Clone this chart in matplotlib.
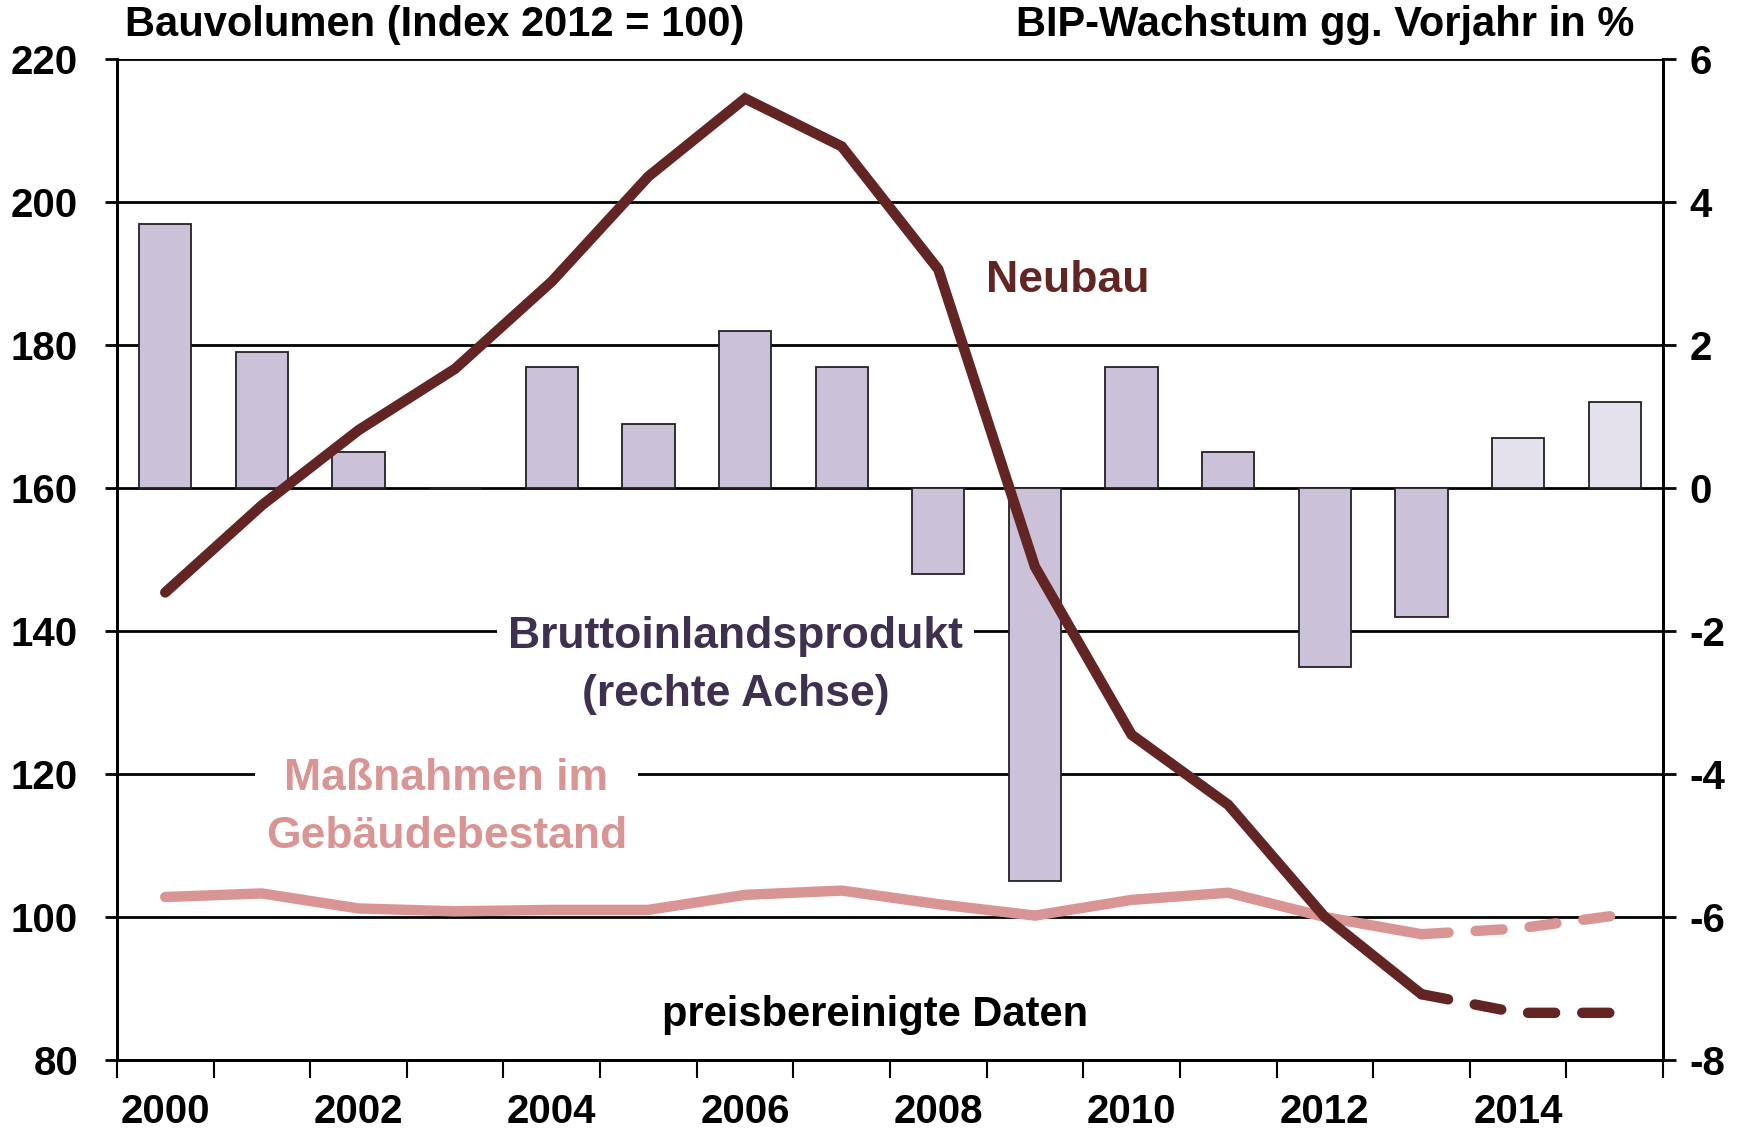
import numpy as np
import matplotlib.pyplot as plt

plt.rcParams["font.family"] = ["Liberation Sans Narrow", "Liberation Sans", "DejaVu Sans"]
plt.rcParams["font.weight"] = "bold"
plt.rcParams["font.size"] = 29
plt.rcParams["axes.unicode_minus"] = False

# data
years = list(range(2000, 2016))
bip = [3.7, 1.9, 0.5, 0.0, 1.7, 0.9, 2.2, 1.7, -1.2, -5.5, 1.7, 0.5, -2.5, -1.8, 0.7, 1.2]
bip_forecast = [False] * 14 + [True, True]
neubau = [145.4, 157.6, 168.1, 176.7, 188.9, 203.6, 214.5, 207.8, 190.6, 149.0,
          125.5, 115.7, 100.0, 89.2, 86.6, 86.6]
bestand = [102.8, 103.3, 101.2, 100.8, 101.0, 101.0, 103.1, 103.7, 101.8, 100.2,
           102.4, 103.4, 100.0, 97.6, 98.4, 100.2]
year_labels = [str(y) for y in years[::2]]

neubau_col = "#632523"
bestand_col = "#D99594"
bip_col = "#CBC2DA"
bip_col_light = "#E4E0EC"
text_purple = "#40304F"

x = np.arange(len(years))
last_actual = 13  # index of 2013, dashed afterwards

fig = plt.figure(figsize=(17.53, 11.36), dpi=100)
ax2 = fig.add_axes([0.0667, 0.0669, 0.882, 0.881])   # bars, right axis
ax = ax2.twinx()                                      # lines, left axis
ax.yaxis.tick_left()
ax2.yaxis.tick_right()
ax.set_zorder(ax2.get_zorder() + 1)
ax.patch.set_visible(False)

# bars (right axis)
colors = [bip_col_light if f else bip_col for f in bip_forecast]
ax2.bar(x, bip, width=0.54, color=colors, edgecolor="#222222", linewidth=1.3, zorder=3)
ax2.set_ylim(-8, 6)
ax2.set_yticks(np.arange(-8, 7, 2))
ax2.grid(axis="y", color="black", linewidth=2, zorder=0)
ax2.set_axisbelow(True)

# lines (left axis)
lw = 7.5
dash = (0, (2.6, 2.6))
ax.plot(x[:last_actual + 1], neubau[:last_actual + 1], color=neubau_col, lw=lw,
        solid_capstyle="round", solid_joinstyle="miter")
ax.plot(x[last_actual:], neubau[last_actual:], color=neubau_col, lw=lw,
        linestyle=dash, dash_capstyle="round")
ax.plot(x[:last_actual + 1], bestand[:last_actual + 1], color=bestand_col, lw=lw,
        solid_capstyle="round", solid_joinstyle="miter", zorder=1.9)
ax.plot(x[last_actual:], bestand[last_actual:], color=bestand_col, lw=lw,
        linestyle=dash, dash_capstyle="round", zorder=1.9)
ax.set_ylim(80, 220)
ax.set_yticks(np.arange(80, 221, 20))

# category axis: tick marks between years, labels every second year
ax2.set_xlim(-0.5, len(years) - 0.5)
ax2.set_xticks(np.arange(-0.5, len(years), 1.0))
ax2.set_xticklabels([])
ax2.set_xticks(x[::2], minor=True)
ax2.set_xticklabels(year_labels, minor=True)
ax2.tick_params(axis="x", which="major", direction="out", length=13, width=1.5)
ax2.tick_params(axis="x", which="minor", length=0, pad=24)

ax.tick_params(axis="y", direction="out", length=9, width=2, pad=19)
ax2.tick_params(axis="y", direction="out", length=9, width=2, pad=10)

for a in (ax, ax2):
    for s in a.spines.values():
        s.set_linewidth(2)
        s.set_color("black")
ax2.spines["top"].set_visible(False)
ax.spines["top"].set_visible(False)

# annotations
ax.text(9.34, 189.0, "Neubau", color=neubau_col, fontsize=32, ha="center", va="center")
ax2.text(5.9, -2.48, "Bruttoinlandsprodukt\n(rechte Achse)", color=text_purple,
         fontsize=32, ha="center", va="center", linespacing=1.55, zorder=2,
         bbox=dict(facecolor="white", edgecolor="none", pad=8))
ax2.text(2.91, -4.47, "Maßnahmen im\nGebäudebestand", color=bestand_col,
         fontsize=32, ha="center", va="center", linespacing=1.55, zorder=2,
         bbox=dict(facecolor="white", edgecolor="none", pad=8))
ax.text(7.35, 86.3, "preisbereinigte Daten", color="black", fontsize=30,
        ha="center", va="center")

fig.text(125 / 1753, 1 - 25 / 1136, "Bauvolumen (Index 2012 = 100)", fontsize=30,
         ha="left", va="center")
fig.text(1634 / 1753, 1 - 25 / 1136, "BIP-Wachstum gg. Vorjahr in %", fontsize=30,
         ha="right", va="center")

plt.savefig("out.png", dpi=100)
